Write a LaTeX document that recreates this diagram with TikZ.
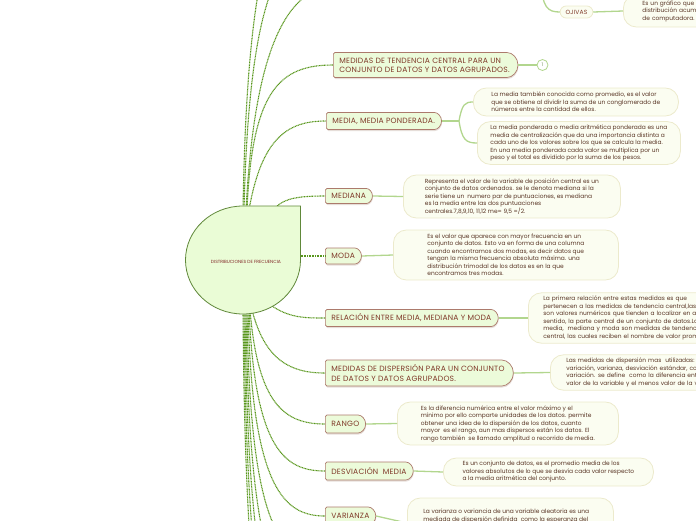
\documentclass[tikz,border=0pt]{standalone}
\usepackage{fontspec}
\setmainfont{Poppins}
\newfontfamily\topicfont[LetterSpace=3]{Poppins}
\usetikzlibrary{shapes.misc,shadows}

\definecolor{branchgreen}{RGB}{88,150,28}
\definecolor{linkgreen}{RGB}{178,214,142}
\definecolor{topicfill}{RGB}{236,251,218}
\definecolor{topicline}{RGB}{172,122,108}
\definecolor{topicshadow}{RGB}{205,190,180}
\definecolor{topictext}{RGB}{128,58,42}
\definecolor{notefill}{RGB}{251,253,241}
\definecolor{noteline}{RGB}{236,234,204}
\definecolor{notetext}{RGB}{88,52,36}
\definecolor{rootfill}{RGB}{234,252,214}
\definecolor{rootline}{RGB}{96,136,58}
\definecolor{roottext}{RGB}{130,40,40}

\begin{document}
\begin{tikzpicture}[x=1pt,y=-1pt,
	topicbox/.style={rounded rectangle, rounded rectangle left arc=none, rounded corners=1.5pt,
		draw=topicline, fill=topicfill, line width=0.7pt, text=topictext,
		font=\topicfont\fontsize{7.6}{9.3}\selectfont, align=left, minimum height=17pt,
		inner xsep=6pt, anchor=west,
		drop shadow={shadow xshift=0.5pt, shadow yshift=-1.5pt, fill=topicshadow}},
	subbox/.style={rounded rectangle, draw=noteline, fill=notefill, line width=0.8pt,
		text=topictext, font=\topicfont\fontsize{6}{7}\selectfont, minimum height=12pt,
		inner xsep=5pt},
	notebox/.style={rectangle, rounded corners=13pt, draw=noteline, fill=notefill,
		line width=0.8pt, text=notetext, font=\fontsize{5.9}{7.5}\selectfont,
		align=left, inner xsep=12pt, anchor=west},
	branchline/.style={draw=branchgreen, line width=1.1pt, dash pattern=on 1pt off 0.6pt},
	linkline/.style={draw=linkgreen, line width=1.3pt},
]
	\useasboundingbox (0,0) rectangle (696,520);
	\clip (0,0) rectangle (696,520);

	% points on the root
	\coordinate (rootN) at (246,210);
	\coordinate (rootNE) at (276,207);
	\coordinate (rootE) at (299,256);
	\coordinate (rootSE) at (272,306);
	\coordinate (rootS) at (248,310);

	% branches that leave the picture
	\coordinate (upA) at (340,-15);
	\coordinate (upB) at (340,-60);
	\coordinate (upC) at (340,-120);
	\coordinate (downA) at (325,560);
	\coordinate (downB) at (325,610);
	\coordinate (downC) at (325,660);
	\coordinate (downD) at (325,710);
	\coordinate (downE) at (325,760);
	\coordinate (ojsplit) at (541,-20);
	\coordinate (mpsplit) at (459,121);

	% topics
	\node[topicbox, minimum height=25pt] (mtc) at (333,65) {MEDIDAS DE TENDENCIA CENTRAL PARA UN\\CONJUNTO DE DATOS Y DATOS AGRUPADOS.};
	\node[topicbox] (mp) at (326,121) {MEDIA, MEDIA PONDERADA.};
	\node[topicbox, minimum height=15pt] (mediana) at (325,196) {MEDIANA};
	\node[topicbox, minimum height=16pt] (moda) at (325,256) {MODA};
	\node[topicbox] (rel) at (325,318) {RELACIÓN ENTRE MEDIA, MEDIANA Y MODA};
	\node[topicbox, minimum height=26pt] (disp) at (325,373) {MEDIDAS DE DISPERSIÓN PARA UN CONJUNTO\\DE DATOS Y DATOS AGRUPADOS.};
	\node[topicbox, minimum height=18pt] (rango) at (325,424) {RANGO};
	\node[topicbox, minimum height=18pt] (desv) at (325,471) {DESVIACIÓN\ \ MEDIA};
	\node[topicbox, minimum height=18pt] (var) at (325,516) {VARIANZA};
	\node[subbox] (ojivas) at (576.5,12) {OJIVAS};
	\node[circle, draw=linkgreen, line width=0.8pt, fill=white, text=linkgreen!70!black,
		font=\fontsize{5}{5}\selectfont, inner sep=0pt, minimum size=11pt] (mtccount) at (542.5,65) {1};

	% notes
	\node[notebox, minimum width=205pt, minimum height=28pt] (mpnoteA) at (473,102) {La media también conocida como promedio, es el valor\\que se obtiene al dividir la suma de un conglomerado de\\números entre la cantidad de ellos.};
	\node[notebox, minimum width=203pt, minimum height=42pt] (mpnoteB) at (477,143) {La media ponderada o media aritmética ponderada es una\\media de centralización que da una importancia distinta a\\cada uno de los valores sobre los que se calcula la media.\\En una media ponderada cada valor se multiplica por un\\peso y el total es dividido por la suma de los pesos.};
	\node[notebox, minimum width=217pt, minimum height=43pt] (mediananote) at (403,196.5) {Representa el valor de la variable de posición central es un\\conjunto de datos ordenados. se le denota mediana si la\\serie tiene un\ \ numero par de puntuaciones, es mediana\\es la media entre las dos puntuaciones\\centrales.7,8,9,10, 11,12 me= 9,5 =/2.};
	\node[notebox, minimum width=225pt, minimum height=50pt] (modanote) at (393,255) {Es el valor que aparece con mayor frecuencia en un\\conjunto de datos. Esto va en forma de una columna\\cuando encontramos dos modas, es decir datos que\\tengan la misma frecuencia absoluta máxima. una\\distribución trimodal de los datos es en la que\\encontramos tres modas.};
	\node[notebox, minimum height=50pt, inner xsep=15pt, text width=200pt] (relnote) at (528,318) {La primera relación entre estas medidas es que\\pertenecen a las medidas de tendencia central,las cuales\\son valores numéricos que tienden a localizar en algún\\sentido, la parte central de un conjunto de datos.La\\media,\ \ mediana y moda son medidas de tendencia\\central, las cuales reciben el nombre de valor promedio.};
	\node[notebox, minimum height=35pt, inner xsep=16pt, text width=200pt] (dispnote) at (550,372.5) {Las medidas de dispersión mas\ \ utilizadas: son el rango de\\variación, varianza, desviación estándar, coeficiente de\\variación. se define\ \ como la diferencia entre el mayor\\valor de la variable y el menos valor de la variable.};
	\node[notebox, minimum width=221pt, minimum height=43pt] (rangonote) at (397,423.5) {Es la diferencia numérica entre el valor máximo y el\\mínimo por ello comparte unidades de los datos. permite\\obtener una idea de la dispersión de los datos, cuanto\\mayor\ \ es el rango, aun mas dispersos están los datos. El\\rango también\ \ se llamado amplitud o recorrido de media.};
	\node[notebox, minimum width=210pt, minimum height=28pt] (desvnote) at (443,472) {Es un conjunto de datos, es el promedio media de los\\valores absolutos de lo que se desvía cada valor respecto\\a la media aritmética del conjunto.};
	\node[notebox, minimum width=206pt, minimum height=50pt] (varnote) at (407,523) {La varianza o variancia de una variable aleatoria es una\\mediada de dispersión definida\ \ como la esperanza del\\cuadrado de la desviación de dicha variable respecto a su\\media.};
	\node[notebox, minimum height=32pt, inner xsep=19pt, text width=180pt] (ojivasnote) at (623,11) {Es un gráfico que representa una\\distribución acumulada en un programa\\de computadora.};

	% links from topics to notes
	\draw[linkline] (mtc.east) -- (mtccount.west);
	\draw[linkline] (mp.east) -- (mpsplit);
	\draw[linkline] (mpsplit) .. controls (462,104) and (465,102) .. (mpnoteA.west);
	\draw[linkline] (mpsplit) .. controls (462,140) and (466,143) .. (mpnoteB.west);
	\draw[linkline] (mediana.east) -- (mediananote.west);
	\draw[linkline] (moda.east) -- (modanote.west);
	\draw[linkline] (rel.east) -- (relnote.west);
	\draw[linkline] (disp.east) -- (dispnote.west);
	\draw[linkline] (rango.east) -- (rangonote.west);
	\draw[linkline] (desv.east) -- (desvnote.west);
	\draw[linkline] (var.east) -- (varnote.west);
	\draw[linkline] (ojsplit) .. controls (542,8) and (548,12) .. (ojivas.west);
	\draw[linkline] (ojivas.east) -- (ojivasnote.west);

	% branches from the root
	\draw[branchline] ([xshift=-3pt]rootN) .. controls (248,-100) and (290,-120) .. (upC);
	\draw[branchline] ([xshift=-2pt]rootN) .. controls (250,-40) and (290,-60) .. (upB);
	\draw[branchline] (rootN) .. controls (255,40) and (290,-15) .. (upA);
	\draw[branchline] ([xshift=1pt]rootN) .. controls (252,90) and (280,65) .. (mtc.west);
	\draw[branchline] ([xshift=3pt]rootN) .. controls (262,135) and (290,121) .. (mp.west);
	\draw[branchline] (rootNE) .. controls (285,198) and (300,196) .. (mediana.west);
	\draw[branchline] (rootE) -- (moda.west);
	\draw[branchline] (rootSE) .. controls (290,318) and (305,318) .. (rel.west);
	\draw[branchline] ([xshift=4pt]rootS) .. controls (265,360) and (290,373) .. (disp.west);
	\draw[branchline] ([xshift=2pt]rootS) .. controls (258,405) and (285,424) .. (rango.west);
	\draw[branchline] ([xshift=1pt]rootS) .. controls (255,450) and (285,471) .. (desv.west);
	\draw[branchline] (rootS) .. controls (252,490) and (285,516) .. (var.west);
	\draw[branchline] ([xshift=-1pt]rootS) .. controls (250,540) and (285,560) .. (downA);
	\draw[branchline] ([xshift=-2pt]rootS) .. controls (249,590) and (285,610) .. (downB);
	\draw[branchline] ([xshift=-3pt]rootS) .. controls (248,640) and (285,660) .. (downC);
	\draw[branchline] ([xshift=-4pt]rootS) .. controls (247,690) and (285,710) .. (downD);
	\draw[branchline] ([xshift=-5pt]rootS) .. controls (246,740) and (285,760) .. (downE);

	% root
	\filldraw[fill=rootfill, draw=rootline, line width=0.8pt] (300.5,260) .. controls (300.5,289.8) and (274.8,314) .. (243,314)
		.. controls (211.2,314) and (185.5,289.8) .. (185.5,260)
		.. controls (185.5,230.2) and (211.2,206) .. (243,206) -- (300.5,206) -- cycle;
	\node[text=roottext, font=\fontsize{4.5}{5}\selectfont] (root) at (246,262) {DISTRIBUCIONES DE FRECUENCIA};

\end{tikzpicture}
\end{document}
